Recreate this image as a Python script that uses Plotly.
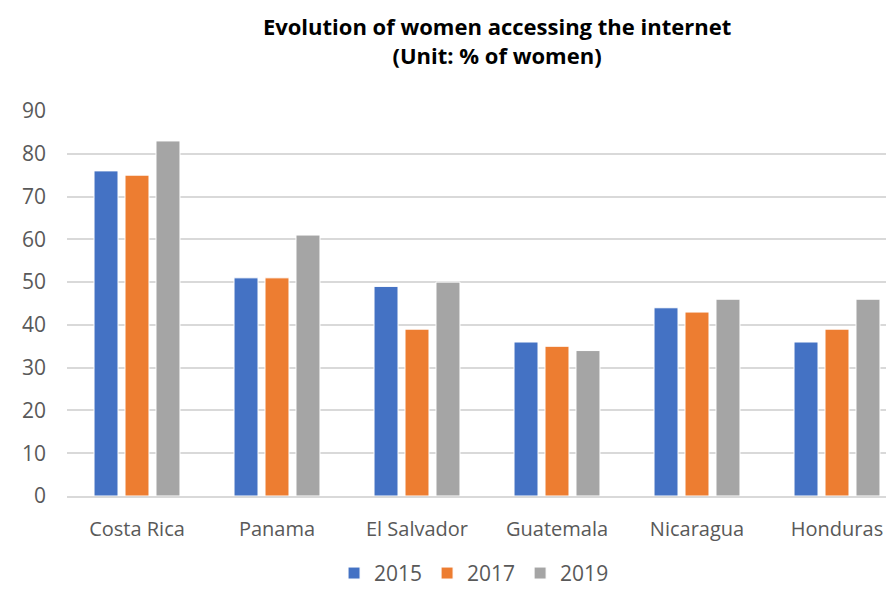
import plotly.graph_objects as go

countries = ["Costa Rica", "Panama", "El Salvador", "Guatemala", "Nicaragua", "Honduras"]
years = ["2015", "2017", "2019"]
women_2015 = [76, 51, 49, 36, 44, 36]
women_2017 = [75, 51, 39, 35, 43, 39]
women_2019 = [83, 61, 50, 34, 46, 46]
y_ticks = [0, 10, 20, 30, 40, 50, 60, 70, 80, 90]

series = [women_2015, women_2017, women_2019]
colors = ["#4472C4", "#ED7D31", "#A5A5A5"]

fig = go.Figure()
for name, vals, col in zip(years, series, colors):
    fig.add_trace(go.Bar(
        x=countries, y=vals, name=name,
        marker=dict(color=col, line=dict(color="white", width=1)),
    ))

fig.update_layout(
    width=886, height=589,
    margin=dict(l=67, r=0, t=111, b=93, autoexpand=False),
    paper_bgcolor="white", plot_bgcolor="white",
    barmode="group", bargap=0.336, bargroupgap=0.226,
    font=dict(family="Open Sans, Liberation Sans, sans-serif", color="#595959"),
    title=dict(
        text="Evolution of women accessing the internet<br>(Unit: % of women)",
        x=0.561, xref="container", xanchor="center",
        y=0.94, yref="container", yanchor="middle",
        font=dict(size=22, color="black", family="Open Sans, sans-serif", weight="bold"),
    ),
    legend=dict(
        orientation="h", x=0.497, xanchor="center",
        y=-0.201, yref="paper", yanchor="middle",
        font=dict(size=21, color="#595959"), itemwidth=30, traceorder="normal",
    ),
    xaxis=dict(
        range=[-0.5, 5.35], showgrid=False, showline=True, linecolor="#D9D9D9",
        linewidth=1.5, tickfont=dict(size=20, color="#595959"),
        ticks="", ticklabelstandoff=14,
    ),
    yaxis=dict(
        range=[0, 90], tickvals=y_ticks, showgrid=True, gridcolor="#D9D9D9",
        gridwidth=1.5, zeroline=False, showline=False,
        tickfont=dict(size=21, color="#595959"), ticklabelstandoff=20,
    ),
)

fig.write_html("out.html")
